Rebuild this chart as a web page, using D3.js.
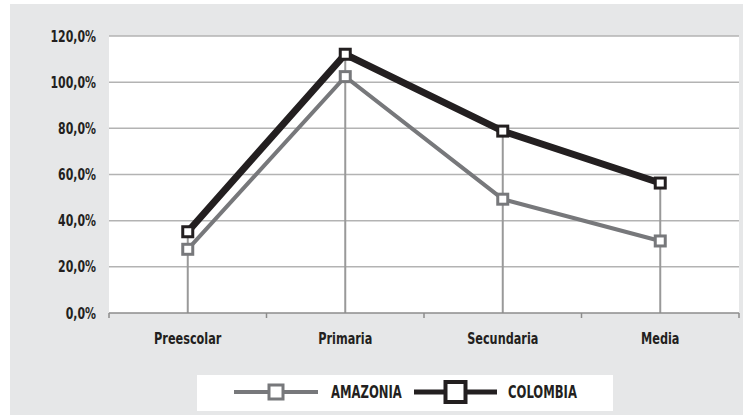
<!DOCTYPE html>
<html>
<head>
<meta charset="utf-8">
<script src="https://cdn.jsdelivr.net/npm/d3@7"></script>
<style>
  body { margin: 0; background: #fff; }
  text { font-family: "Liberation Sans Narrow", "DejaVu Sans Condensed", Arial, sans-serif; font-weight: bold; fill: #231f20; }
</style>
</head>
<body>
<svg width="743" height="415"></svg>
<script>
// Data
var niveles = ["Preescolar", "Primaria", "Secundaria", "Media"];
var amazonia = [27.6, 102.4, 49.3, 31.2];
var colombia = [35.2, 112.1, 78.8, 56.3];
var yTicks = [0, 20, 40, 60, 80, 100, 120];
var seriesNames = ["AMAZONIA", "COLOMBIA"];

var svg = d3.select("svg");

// squeeze the text a bit, the original font is a narrow one
var narrow = 0.76;
function place(xp, yp) {
  return "translate(" + xp + "," + yp + ") scale(" + narrow + ",1)";
}

// grey frame
svg.append("rect")
    .attr("x", 10).attr("y", 4)
    .attr("width", 733).attr("height", 411)
    .attr("fill", "#e6e7e8");

var plot = {left: 109, right: 739, top: 36, bottom: 313};

var x = d3.scaleBand()
    .domain(niveles)
    .range([plot.left, plot.right]);

var y = d3.scaleLinear()
    .domain([0, 120])
    .range([plot.bottom, plot.top]);

// plot background
svg.append("rect")
    .attr("x", plot.left).attr("y", plot.top)
    .attr("width", plot.right - plot.left)
    .attr("height", plot.bottom - plot.top)
    .attr("fill", "#fff");

// gridlines
svg.append("g").selectAll("line")
    .data(yTicks.slice(1))
  .enter().append("line")
    .attr("x1", plot.left).attr("x2", plot.right)
    .attr("y1", function(d) { return y(d); })
    .attr("y2", function(d) { return y(d); })
    .attr("stroke", "#b3b3b3")
    .attr("stroke-width", 1.5);

// y labels
svg.append("g").selectAll("text")
    .data(yTicks)
  .enter().append("text")
    .attr("transform", function(d) { return place(96, y(d) + 5.5); })
    .attr("text-anchor", "end")
    .style("font-size", "16px")
    .text(function(d) { return d.toFixed(1).replace(".", ",") + "%"; });

// drop lines, from the highest point down to the axis
var cx = function(d, i) { return x(niveles[i]) + x.bandwidth() / 2; };
svg.append("g").selectAll("line")
    .data(niveles)
  .enter().append("line")
    .attr("x1", cx).attr("x2", cx)
    .attr("y1", function(d, i) { return y(Math.max(amazonia[i], colombia[i])); })
    .attr("y2", plot.bottom)
    .attr("stroke", "#999")
    .attr("stroke-width", 2);

// x axis
var xAxis = svg.append("g");
xAxis.append("line")
    .attr("x1", plot.left).attr("x2", plot.right)
    .attr("y1", plot.bottom).attr("y2", plot.bottom)
    .attr("stroke", "#8c8c8c")
    .attr("stroke-width", 1.5);
xAxis.selectAll("line.tick")
    .data(niveles.concat(["end"]))
  .enter().append("line")
    .attr("class", "tick")
    .attr("x1", function(d, i) { return plot.left + i * x.bandwidth(); })
    .attr("x2", function(d, i) { return plot.left + i * x.bandwidth(); })
    .attr("y1", plot.bottom).attr("y2", plot.bottom + 5)
    .attr("stroke", "#8c8c8c")
    .attr("stroke-width", 1.5);
xAxis.selectAll("text")
    .data(niveles)
  .enter().append("text")
    .attr("transform", function(d) { return place(x(d) + x.bandwidth() / 2, 344); })
    .attr("text-anchor", "middle")
    .style("font-size", "16.5px")
    .text(function(d) { return d; });

// series
var line = d3.line()
    .x(function(d, i) { return cx(d, i); })
    .y(function(d) { return y(d); });

function drawSeries(values, color, width, size, sw) {
  var g = svg.append("g");
  g.append("path")
      .datum(values)
      .attr("d", line)
      .attr("fill", "none")
      .attr("stroke", color)
      .attr("stroke-width", width)
      .attr("stroke-linejoin", "miter");
  g.selectAll("rect")
      .data(values)
    .enter().append("rect")
      .attr("x", function(d, i) { return cx(d, i) - size / 2; })
      .attr("y", function(d) { return y(d) - size / 2; })
      .attr("width", size).attr("height", size)
      .attr("fill", "#fff")
      .attr("stroke", color)
      .attr("stroke-width", sw);
}

drawSeries(amazonia, "#77787b", 4, 10, 3);
drawSeries(colombia, "#231f20", 7, 10, 3);

// Legend
var legend = svg.append("g");
legend.append("rect")
    .attr("x", 197).attr("y", 375)
    .attr("width", 416).attr("height", 36)
    .attr("fill", "#fff");

var legendItems = [
  {name: seriesNames[0], color: "#77787b", x1: 234, x2: 318, lw: 4, size: 14, sw: 3, tx: 331},
  {name: seriesNames[1], color: "#231f20", x1: 414, x2: 497, lw: 5, size: 20, sw: 4, tx: 508}
];
legendItems.forEach(function(it) {
  var m = (it.x1 + it.x2) / 2;
  legend.append("line")
      .attr("x1", it.x1).attr("x2", it.x2)
      .attr("y1", 392).attr("y2", 392)
      .attr("stroke", it.color)
      .attr("stroke-width", it.lw);
  legend.append("rect")
      .attr("x", m - it.size / 2).attr("y", 392 - it.size / 2)
      .attr("width", it.size).attr("height", it.size)
      .attr("fill", "#fff")
      .attr("stroke", it.color)
      .attr("stroke-width", it.sw);
  legend.append("text")
      .attr("transform", place(it.tx, 398))
      .style("font-size", "17px")
      .text(it.name);
});
</script>
</body>
</html>
